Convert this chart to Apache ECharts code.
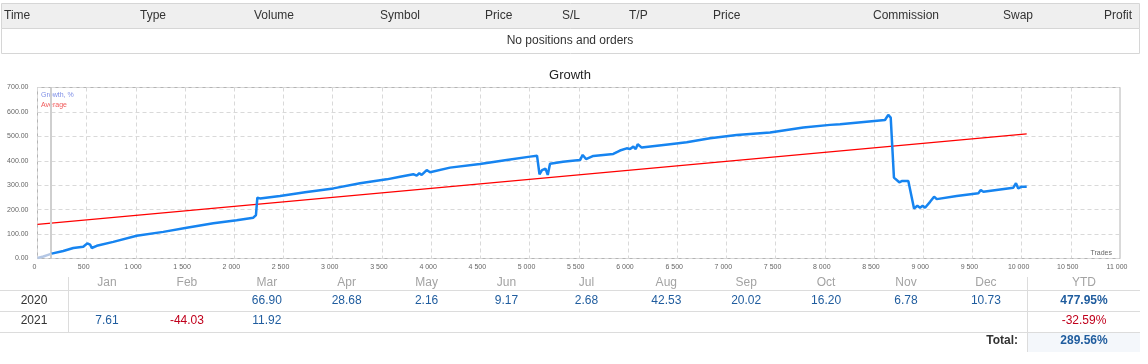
<!DOCTYPE html>
<html><head><meta charset="utf-8">
<script src="https://cdn.jsdelivr.net/npm/echarts@6/dist/echarts.min.js"></script>
<style>html,body{margin:0;padding:0;background:#fff}#c{width:1148px;height:364px}</style>
</head><body><div id="c"></div>
<script>
// ---------- data ----------
const headerLabels = ['Time','Type','Volume','Symbol','Price','S/L','T/P','Price','Commission','Swap','Profit'];
const emptyMessage = 'No positions and orders';
const chartTitle = 'Growth';
const legendNames = ['Growth, %', 'Average'];
const xAxisName = 'Trades';
const months = ['Jan','Feb','Mar','Apr','May','Jun','Jul','Aug','Sep','Oct','Nov','Dec'];
const years = ['2020','2021'];
const monthly2020 = [null,null,66.90,28.68,2.16,9.17,2.68,42.53,20.02,16.20,6.78,10.73];
const monthly2021 = [7.61,-44.03,11.92,null,null,null,null,null,null,null,null,null];
const ytdValues = [477.95,-32.59];
const totalLabel = 'Total:';
const totalValue = 289.56;

const earlyTrades = [0, 60, 100, 144];
const earlyGrowth = [2, 8, 14, 20];
const startMarkerTrade = 137;

const growthTrades = [144,262,364,465,506,534,551,602,770,1008,1278,1516,1787,2024,2193,2220,2234,2261,2464,2668,2718,3006,3277,3549,3684,3819,3853,3880,3904,3955,3989,4192,4496,4768,5005,5076,5101,5127,5162,5185,5208,5340,5411,5513,5540,5574,5648,5851,5919,5987,6021,6055,6079,6099,6140,6428,6597,6834,7105,7444,7782,8053,8155,8612,8645,8670,8680,8703,8757,8782,8849,8907,8941,8968,8995,9019,9070,9111,9138,9341,9561,9585,9612,9916,9943,9966,10001,10052];
const growthValues = [20,31,43,48,62,57,43,52,68,93,109,126,144,157,167,178,249,246,256,268,271,287,308,324,335,345,339,349,342,362,353,372,387,403,417,421,345,362,368,342,388,396,399,403,424,407,420,428,442,451,448,458,448,468,454,468,476,492,506,516,536,547,550,567,588,577,574,331,312,317,317,205,216,208,216,208,232,253,243,256,267,280,273,290,308,287,294,294];

const averageTrades = [0, 10052];
const averageValues = [140, 510];

// ---------- chart ----------
const zip = (a, b) => a.map((v, i) => [v, b[i]]);
const FONT = '"Liberation Sans", Arial, sans-serif';

const graphic = [];
// top positions table
graphic.push({type:'rect', shape:{x:1.5, y:3.5, width:1138, height:25}, style:{fill:'#efefef', stroke:'#d6d6d6', lineWidth:1}, silent:true});
graphic.push({type:'rect', shape:{x:1.5, y:28.5, width:1138, height:25}, style:{fill:'#ffffff', stroke:'#d6d6d6', lineWidth:1}, silent:true});
const headerX = [4,140,254,380,485,562,629,713,873,1003,1104];
headerLabels.forEach((t, i) => graphic.push({type:'text', style:{text:t, x:headerX[i], y:16, fill:'#333', font:'12px ' + FONT, textAlign:'left', textVerticalAlign:'middle', align:'left', verticalAlign:'middle'}, silent:true}));
graphic.push({type:'text', style:{text:emptyMessage, x:570, y:41, fill:'#333', font:'12px ' + FONT, textAlign:'center', textVerticalAlign:'middle', align:'center', verticalAlign:'middle'}, silent:true});
// chart title
graphic.push({type:'text', style:{text:chartTitle, x:570, y:75, fill:'#222', font:'13px ' + FONT, textAlign:'center', textVerticalAlign:'middle', align:'center', verticalAlign:'middle'}, silent:true});
// x axis name inside plot
graphic.push({type:'text', style:{text:xAxisName, x:1112, y:253, fill:'#666', font:'7px ' + FONT, textAlign:'right', textVerticalAlign:'middle', align:'right', verticalAlign:'middle'}, silent:true, z:10});

// monthly table
const lineStyle = {stroke:'#dcdcdc', lineWidth:1};
[290.5, 311.5, 332.5].forEach(y => graphic.push({type:'line', shape:{x1:0, y1:y, x2:1140, y2:y}, style:lineStyle, silent:true}));
graphic.push({type:'line', shape:{x1:68.5, y1:277, x2:68.5, y2:332}, style:lineStyle, silent:true});
graphic.push({type:'rect', shape:{x:1028, y:333, width:112, height:19}, style:{fill:'#f4f7fb'}, silent:true});
graphic.push({type:'line', shape:{x1:1027.5, y1:277, x2:1027.5, y2:352}, style:lineStyle, silent:true});
const colX = i => 107 + i * 79.9;
const ytdX = 1084;
const headY = 283, rowY = [301, 321], totalY = 341;
const txt = (text, x, y, fill, bold, align) => ({type:'text', silent:true, style:{text, x, y, fill, font:(bold ? 'bold ' : '') + '12px ' + FONT, textAlign:align || 'center', textVerticalAlign:'middle', align:align || 'center', verticalAlign:'middle'}});
months.forEach((m, i) => graphic.push(txt(m, colX(i), headY, '#a3a3a3', false)));
graphic.push(txt('YTD', ytdX, headY, '#a3a3a3', false));
const valColor = v => v < 0 ? '#c0001c' : '#1f5c9e';
[monthly2020, monthly2021].forEach((row, r) => {
  graphic.push(txt(years[r], 34, rowY[r], '#333', false));
  row.forEach((v, i) => { if (v !== null) graphic.push(txt(v.toFixed(2), colX(i), rowY[r], valColor(v), false)); });
  graphic.push(txt(ytdValues[r].toFixed(2) + '%', ytdX, rowY[r], valColor(ytdValues[r]), ytdValues[r] >= 0));
});
graphic.push(txt(totalLabel, 1018, totalY, '#333', true, 'right'));
graphic.push(txt(totalValue.toFixed(2) + '%', ytdX, totalY, valColor(totalValue), true));

const fmtX = v => v >= 1000 ? Math.floor(v / 1000) + ' ' + String(v % 1000).padStart(3, '0') : String(v);

const chart = echarts.init(document.getElementById('c'), null, {renderer:'canvas'});
chart.setOption({
  animation:false,
  backgroundColor:'#fff',
  grid:{left:37.5, right:28, top:87.5, bottom:105.5, show:true, borderColor:'#b4b4b4', borderWidth:1, backgroundColor:'transparent'},
  legend:{orient:'vertical', left:31, top:87, itemGap:3, itemWidth:0, itemHeight:0, icon:'none', selectedMode:false,
    textStyle:{fontSize:7, fontFamily:FONT},
    data:[{name:legendNames[0], textStyle:{color:'#7f8fe6'}}, {name:legendNames[1], textStyle:{color:'#f05a5a'}}]},
  xAxis:{type:'value', min:0, max:11000, interval:500,
    axisLine:{show:false}, axisTick:{show:false},
    axisLabel:{fontSize:7, color:'#666', fontFamily:FONT, margin:5, formatter:fmtX, showMaxLabel:true, showMinLabel:true, padding:[0,6,0,0]},
    splitLine:{show:true, lineStyle:{color:'#d9d9d9', type:[4,3], width:1}}},
  yAxis:{type:'value', min:0, max:700, interval:100,
    axisLine:{show:false}, axisTick:{show:false},
    axisLabel:{fontSize:7, color:'#666', fontFamily:FONT, margin:9, formatter:v => v.toFixed(2)},
    splitLine:{show:true, lineStyle:{color:'#d9d9d9', type:[4,3], width:1}}},
  series:[
    {name:'Growth start', type:'line', data:zip(earlyTrades, earlyGrowth), showSymbol:false, symbol:'none',
      lineStyle:{color:'#b3c6e4', width:2.5}, itemStyle:{color:'#b3c6e4'}, z:3,
      markLine:{silent:true, symbol:'none', label:{show:false}, lineStyle:{color:'#cfcfcf', width:2, type:'solid'}, data:[{xAxis:startMarkerTrade}]}},
    {name:legendNames[1], type:'line', data:zip(averageTrades, averageValues), showSymbol:false, symbol:'none',
      lineStyle:{color:'#ff0000', width:1.2}, itemStyle:{color:'#ff0000'}, z:4},
    {name:legendNames[0], type:'line', data:zip(growthTrades, growthValues), showSymbol:false, symbol:'none',
      lineStyle:{color:'#1684f0', width:2.5}, itemStyle:{color:'#1684f0'}, z:5}
  ],
  graphic:graphic
});
</script></body></html>
